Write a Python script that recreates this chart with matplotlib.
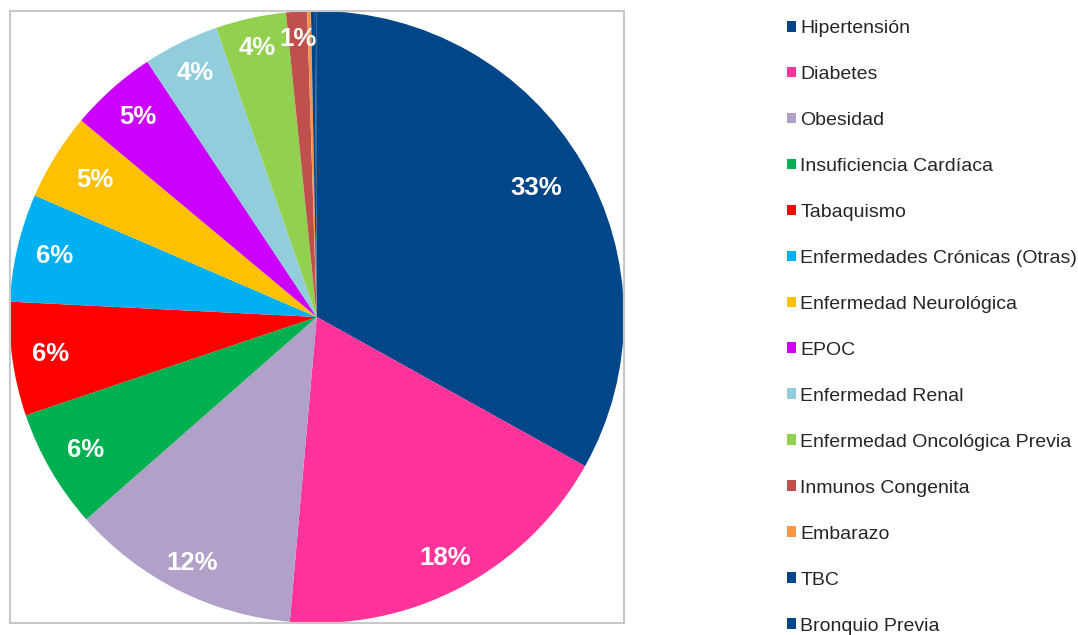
import matplotlib
matplotlib.use("Agg")
from matplotlib import pyplot as plt
from matplotlib.patches import Patch

plt.rcParams["font.family"] = ["Liberation Sans", "DejaVu Sans"]

categories = [
    "Hipertensión", "Diabetes", "Obesidad", "Insuficiencia Cardíaca",
    "Tabaquismo", "Enfermedades Crónicas (Otras)", "Enfermedad Neurológica",
    "EPOC", "Enfermedad Renal", "Enfermedad Oncológica Previa",
    "Inmunos Congenita", "Embarazo", "TBC", "Bronquio Previa",
]
shares = [33.1, 18.3, 12.1, 6.3, 6.0, 5.7, 4.6, 4.6, 4.0, 3.7, 1.1, 0.2, 0.2, 0.1]
colors = [
    "#02468a", "#ff3399", "#b1a0c7", "#00b050", "#ff0000", "#00b0f0",
    "#ffc000", "#cc00ff", "#92cddc", "#92d050", "#c0504d", "#f79646",
    "#02468a", "#02468a",
]
# label distance from centre (fraction of radius), excel "best fit" look
label_dist = [0.83, 0.89, 0.9, 0.87, 0.875, 0.875, 0.85, 0.875, 0.89, 0.9, 0.91, 0.9, 0.9, 0.9]


def pct_label(p):
    return f"{p:.0f}%" if p >= 0.5 else ""


def main():
    fig = plt.figure(figsize=(10.78, 6.35), dpi=100)
    W, H = 1078, 635
    ax = fig.add_axes([9.5 / W, (H - 623) / H, (624 - 9.5) / W, (623 - 11) / H])

    wedges, texts, autotexts = ax.pie(
        shares, colors=colors, startangle=90, counterclock=False,
        autopct=pct_label, pctdistance=1.0, radius=1.0,
        wedgeprops=dict(linewidth=0),
        textprops=dict(color="white", fontsize=18.5, fontweight="bold"),
    )
    for t, d in zip(autotexts, label_dist):
        x, y = t.get_position()
        t.set_position((x * d, y * d))

    ax.set_xlim(-1.0, 1.0)
    ax.set_ylim(-1.0, 1.0)
    ax.set_aspect("equal", adjustable="datalim")
    ax.set_frame_on(True)
    for sp in ax.spines.values():
        sp.set_visible(True)
        sp.set_color("#c8c8c8")
        sp.set_linewidth(1.5)

    handles = [Patch(facecolor=c, edgecolor="none") for c in colors]
    fig.legend(
        handles, categories, loc="upper left",
        bbox_to_anchor=(787 / W, 1 - 20 / H), frameon=False,
        fontsize=14.0, labelcolor="#262626",
        handlelength=0.48, handleheight=0.48, handletextpad=0.2,
        labelspacing=1.49, borderaxespad=0, borderpad=0,
    )

    fig.savefig("out.png", dpi=100)


if __name__ == "__main__":
    main()
